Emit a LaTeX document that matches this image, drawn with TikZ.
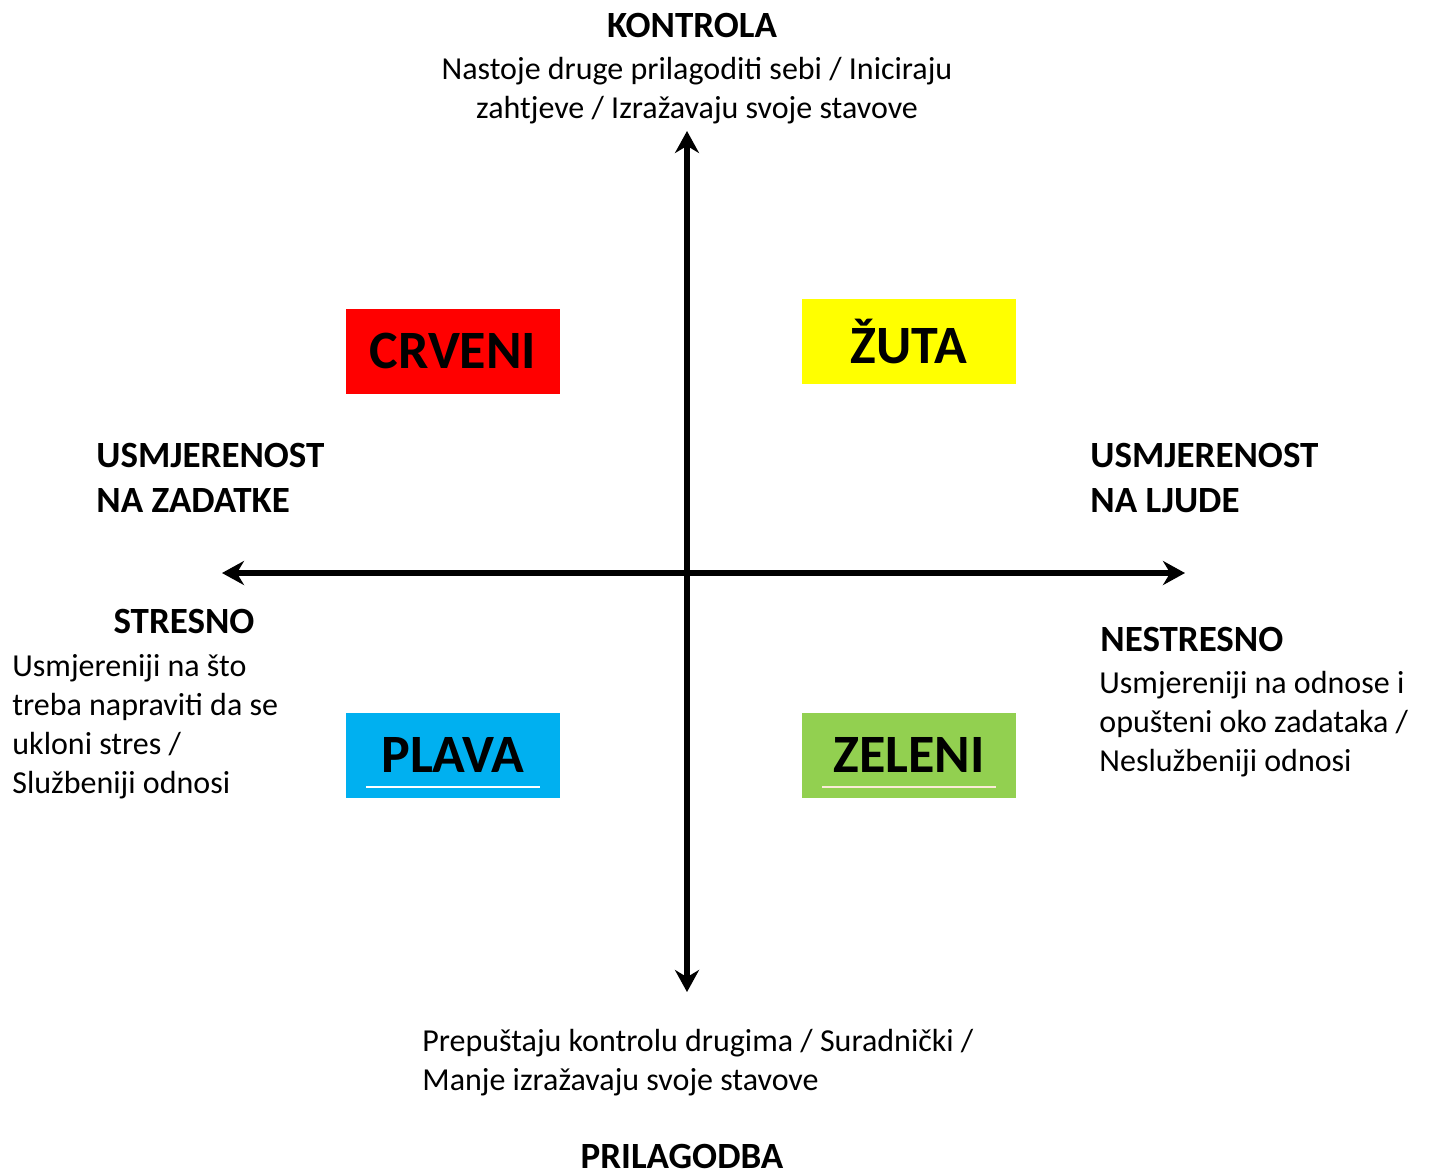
\documentclass[tikz,border=0pt]{standalone}
\usepackage{fontspec}
\setmainfont{Carlito}
\usetikzlibrary{arrows.meta}
\definecolor{boxred}{HTML}{FF0000}
\definecolor{boxyellow}{HTML}{FFFF00}
\definecolor{boxblue}{HTML}{00B0F0}
\definecolor{boxgreen}{HTML}{92D050}
\tikzset{
  axis/.style={line width=3pt, -{Stealth[length=11pt,width=12pt]}},
  colorbox/.style={minimum width=107pt, minimum height=42.5pt, inner sep=0pt, font=\fontsize{27}{30}\selectfont\bfseries},
  head/.style={font=\fontsize{18.5}{22.5}\selectfont\bfseries, inner sep=0pt, align=left},
  body/.style={font=\fontsize{16}{19.5}\selectfont, inner sep=0pt, align=left},
}
\begin{document}
\begin{tikzpicture}[x=0.5pt,y=-0.5pt]
\useasboundingbox[fill=white] (0,0) rectangle (1429,1169);

% axes
\coordinate (c) at (687,573);
\coordinate (top) at (687,131);
\coordinate (bot) at (687,992);
\coordinate (lft) at (222,573);
\coordinate (rgt) at (1185,573);
\draw[axis] (c) -- (top);
\draw[axis] (c) -- (bot);
\draw[axis] (c) -- (lft);
\draw[axis] (c) -- (rgt);

% coloured quadrant boxes
\node[colorbox, fill=boxred] (crveni) at (453,351) {CRVENI};
\node[colorbox, fill=boxyellow] (zuta) at (909,341) {ŽUTA};
\node[colorbox, fill=boxblue] (plava) at (453,755) {PLAVA};
\node[colorbox, fill=boxgreen] (zeleni) at (909,755) {ZELENI};
\draw[white, line width=1pt] (366,787) -- (540,787);
\draw[color={rgb,255:red,250;green,235;blue,215}, line width=1pt] (822,787) -- (996,787);

% top (base anchors sit on the last line of each block)
\node[head, anchor=base] (kontrola) at (692,37) {KONTROLA};
\node[body, align=center, anchor=base] (ktext) at (697,118) {Nastoje druge prilagoditi sebi / Iniciraju\\zahtjeve / Izražavaju svoje stavove};

% left
\node[head, anchor=base west] (zadatke) at (96,512) {USMJERENOST\\NA ZADATKE};
\node[head, anchor=base] (stresno) at (184,633) {STRESNO};
\node[body, anchor=base west] (stext) at (12,793) {Usmjereniji na što\\treba napraviti da se\\ukloni stres /\\Službeniji odnosi};

% right
\node[head, anchor=base west] (ljude) at (1090,512) {USMJERENOST\\NA LJUDE};
\node[head, anchor=base west] (nestresno) at (1100,651) {NESTRESNO};
\node[body, anchor=base west] (ntext) at (1099,771) {Usmjereniji na odnose i\\opušteni oko zadataka /\\Neslužbeniji odnosi};

% bottom
\node[body, anchor=base west] (ptext) at (422,1090) {Prepuštaju kontrolu drugima / Suradnički /\\Manje izražavaju svoje stavove};
\node[head, anchor=base] (prilagodba) at (682,1168) {PRILAGODBA};
\end{tikzpicture}
\end{document}
